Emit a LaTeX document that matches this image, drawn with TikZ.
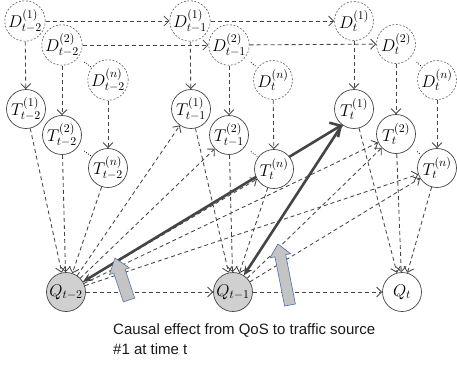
\RequirePackage{fix-cm}
\documentclass[tikz,border=0pt]{standalone}
\usepackage{fontspec}
\setsansfont{Liberation Sans}
\usetikzlibrary{arrows.meta,calc}
\pgfdeclarelayer{bg}
\pgfsetlayers{bg,main}
\definecolor{edgegray}{HTML}{454545}
\definecolor{qfill}{HTML}{D0D0D0}
\definecolor{bafill}{HTML}{C4C4C4}
\definecolor{baline}{HTML}{4F6FA8}
\definecolor{captext}{HTML}{1A1A1A}
\tikzset{
  mathfont/.style={font=\fontsize{17}{17}\selectfont},
  dnode/.style={circle, draw=edgegray!85, dash pattern=on 2pt off 1.6pt, line width=0.6pt, fill=white, minimum size=39pt, inner sep=0pt, mathfont},
  tnode/.style={circle, draw=edgegray, line width=0.7pt, fill=white, minimum size=39pt, inner sep=0pt, mathfont},
  qnode/.style={circle, draw=edgegray, line width=0.7pt, fill=qfill, minimum size=39pt, inner sep=0pt, mathfont},
  dedge/.style={draw=edgegray, line width=0.85pt, dash pattern=on 4pt off 3pt, -{Straight Barb[length=5pt,width=10pt]}},
  thickedge/.style={draw=edgegray, line width=2.6pt},
  dotsmark/.style={draw=black, line width=1.1pt, dash pattern=on 0pt off 2.4pt, line cap=round},
  blockarrow/.style={fill=bafill, draw=baline, line width=0.6pt, line join=miter},
  captionfont/.style={font=\sffamily\fontsize{15}{18}\selectfont, text=captext, inner sep=0pt}
}
\begin{document}
\begin{tikzpicture}[x=1pt, y=-1pt]
\useasboundingbox (0,0) rectangle (457,365);
% D nodes
\node[dnode] (D1a) at (25,21) {$D^{(1)}_{t-2}$};
\node[dnode] (D2a) at (62,45) {$D^{(2)}_{t-2}$};
\node[dnode] (Dna) at (108,80) {$D^{(n)}_{t-2}$};
\node[dnode] (D1b) at (190,21) {$D^{(1)}_{t-1}$};
\node[dnode] (D2b) at (229,45) {$D^{(2)}_{t-1}$};
\node[dnode] (Dnb) at (273,80) {$D^{(n)}_{t}$};
\node[dnode] (D1c) at (354,21) {$D^{(1)}_{t}$};
\node[dnode] (D2c) at (396,44) {$D^{(2)}_{t}$};
\node[dnode] (Dnc) at (437,80) {$D^{(n)}_{t}$};
% T nodes
\node[tnode] (T1a) at (26,109) {$T^{(1)}_{t-2}$};
\node[tnode] (T2a) at (62,135) {$T^{(2)}_{t-2}$};
\node[tnode] (Tna) at (108,168) {$T^{(n)}_{t-2}$};
\node[tnode] (T1b) at (191,109) {$T^{(1)}_{t-1}$};
\node[tnode] (T2b) at (229,135) {$T^{(2)}_{t-1}$};
\node[tnode] (Tnb) at (274,169) {$T^{(n)}_{t}$};
\node[tnode] (T1c) at (354,109) {$T^{(1)}_{t}$};
\node[tnode] (T2c) at (396,134) {$T^{(2)}_{t}$};
\node[tnode] (Tnc) at (437,168) {$T^{(n)}_{t}$};
% Q nodes
\node[qnode] (Qa) at (66,292) {$Q_{t-2}$};
\node[qnode] (Qb) at (233,292) {$Q_{t-1}$};
\node[tnode] (Qc) at (402,292) {$Q_{t}$};
% dots between circles
\foreach \a/\b in {D2a/Dna, D2b/Dnb, D2c/Dnc, T2a/Tna, T2b/Tnb, T2c/Tnc}
  \draw[dotsmark, shorten <=8pt, shorten >=1pt] (\a) -- (\b);
\begin{pgfonlayer}{bg}
% horizontal
\draw[dedge] (D1a) -- (D1b);
\draw[dedge] (D1b) -- (D1c);
\draw[dedge] (D2a) -- (D2b);
\draw[dedge] (D2b) -- (D2c);
\draw[dedge] (Qa) -- (Qb);
\draw[dedge] (Qb) -- (Qc);
% vertical D -> T
\foreach \i in {1a,2a,na,1b,2b,nb,1c,2c,nc}
  \draw[dedge] (D\i) -- (T\i);
% T -> Q
\foreach \i in {1a,2a,na} \draw[dedge] (T\i) -- (Qa);
\foreach \i in {1b,2b,nb} \draw[dedge] (T\i) -- (Qb);
\foreach \i in {1c,2c,nc} \draw[dedge] (T\i) -- (Qc);
% Q -> T (next times)
\foreach \i in {1b,2b,nb,2c,nc} \draw[dedge] (Qa) -- (T\i);
\foreach \i in {2c,nc} \draw[dedge] (Qb) -- (T\i);
% thick causal lines
\draw[thickedge, {Stealth[length=9pt,width=8pt]}-{Straight Barb[length=8pt,width=17pt]}] (Qa) -- (T1c.233);
\draw[thickedge, {Stealth[length=9pt,width=8pt]}-] (Qb) -- (T1c.233);
\end{pgfonlayer}
% block arrows
\coordinate (B1) at (129,300); \coordinate (P1) at (115,258);
\coordinate (H1) at ($(P1)!14pt!(B1)$);
\draw[blockarrow] ($(B1)!6pt!90:(P1)$) -- ($(H1)!6pt!90:(P1)$) -- ($(H1)!10.5pt!90:(P1)$) -- (P1) -- ($(H1)!10.5pt!-90:(P1)$) -- ($(H1)!6pt!-90:(P1)$) -- ($(B1)!6pt!-90:(P1)$) -- cycle;
\coordinate (B2) at (290,305); \coordinate (P2) at (278,244);
\coordinate (H2) at ($(P2)!12pt!(B2)$);
\draw[blockarrow] ($(B2)!5.5pt!90:(P2)$) -- ($(H2)!5.5pt!90:(P2)$) -- ($(H2)!10.5pt!90:(P2)$) -- (P2) -- ($(H2)!10.5pt!-90:(P2)$) -- ($(H2)!5.5pt!-90:(P2)$) -- ($(B2)!5.5pt!-90:(P2)$) -- cycle;
% caption
\node[captionfont, anchor=base west] (cap1) at (113,334) {Causal effect from QoS to traffic source};
\node[captionfont, anchor=base west] (cap2) at (113,354) {\#1 at time t};
\end{tikzpicture}
\end{document}
